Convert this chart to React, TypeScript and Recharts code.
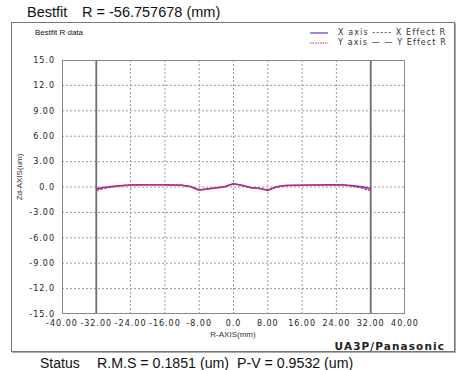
import React from 'react';
import { LineChart, Line, XAxis, YAxis, CartesianGrid, ReferenceLine } from 'recharts';

const rPositionList = [
  -32, -30, -28, -26, -24, -22, -20, -18, -16, -14, -12, -10, -8, -6, -4, -2, 0,
  2, 4, 6, 8, 10, 12, 14, 16, 18, 20, 22, 24, 26, 28, 30, 32,
];
const xAxisDeviationList = [
  -0.22, -0.04, 0.08, 0.18, 0.24, 0.27, 0.28, 0.28, 0.27, 0.25, 0.22, 0.05, -0.35, -0.22, -0.1, 0.05, 0.38,
  0.2, -0.05, -0.15, -0.38, 0.02, 0.18, 0.2, 0.22, 0.24, 0.25, 0.27, 0.28, 0.25, 0.15, 0.02, -0.18,
];
const yAxisDeviationList = [
  -0.38, -0.12, 0.04, 0.15, 0.22, 0.25, 0.26, 0.26, 0.25, 0.23, 0.2, 0.02, -0.38, -0.25, -0.12, 0.03, 0.4,
  0.18, -0.08, -0.18, -0.42, 0.0, 0.16, 0.18, 0.2, 0.22, 0.24, 0.25, 0.25, 0.2, 0.08, -0.12, -0.42,
];
const effectRadiusList = [-32, 32];

const xTickValueList = [-40, -32, -24, -16, -8, 0, 8, 16, 24, 32, 40];
const xTickLabelList = ['-40.00', '-32.00', '-24.00', '-16.00', '-8.00', '0.0', '8.00', '16.00', '24.00', '32.00', '40.00'];
const yTickValueList = [15, 12, 9, 6, 3, 0, -3, -6, -9, -12, -15];
const yTickLabelList = ['15.0', '12.0', '9.00', '6.00', '3.00', '0.0', '-3.00', '-6.00', '-9.00', '-12.0', '-15.0'];

const chartRowList = rPositionList.map((r, i) => ({
  r,
  xAxis: xAxisDeviationList[i],
  yAxis: yAxisDeviationList[i],
}));

const tickStyle = { fontFamily: 'DejaVu Sans', fontSize: 8, fill: '#222', letterSpacing: 1 };

const abs = (left: number, top: number): React.CSSProperties => ({
  position: 'absolute',
  left,
  top,
  whiteSpace: 'pre',
  lineHeight: 1,
});

export default function App(): React.JSX.Element {
  return (
    <div
      style={{
        position: 'fixed',
        left: 0,
        top: 0,
        width: 456,
        height: 370,
        background: '#fff',
        fontFamily: '"Liberation Sans", Arial, sans-serif',
        color: '#111',
        overflow: 'hidden',
      }}
    >
      <div style={{ ...abs(27, 5), fontSize: 14.5 }}>Bestfit</div>
      <div style={{ ...abs(82, 5), fontSize: 14.5 }}>R = -56.757678 (mm)</div>

      <div
        style={{
          position: 'absolute',
          left: 11,
          top: 22,
          width: 442,
          height: 328,
          border: '1px solid #777',
          boxShadow: '1px 1px 0 #aaa',
        }}
      />

      <LineChart
        width={456}
        height={370}
        data={chartRowList}
        margin={{ top: 60, right: 51, bottom: 26, left: 0 }}
        style={{ position: 'absolute', left: 0, top: 0 }}
      >
        <CartesianGrid
          stroke="#9a9a9a"
          strokeDasharray="2 2"
          horizontalValues={[12, 9, 6, 3, 0, -3, -6, -9, -12]}
          verticalValues={[-32, -24, -16, -8, 0, 8, 16, 24, 32]}
        />
        <XAxis
          type="number"
          dataKey="r"
          domain={[-40, 40]}
          ticks={xTickValueList}
          tickFormatter={(v: number) => xTickLabelList[xTickValueList.indexOf(v)]}
          tick={tickStyle}
          axisLine={false}
          tickLine={false}
          tickMargin={0}
          height={30}
          interval={0}
        />
        <YAxis
          type="number"
          domain={[-15, 15]}
          ticks={yTickValueList}
          tickFormatter={(v: number) => yTickLabelList[yTickValueList.indexOf(v)]}
          tick={tickStyle}
          axisLine={false}
          tickLine={false}
          tickMargin={1}
          width={62}
          interval={0}
        />
        {effectRadiusList.map((r) => (
          <ReferenceLine key={r} x={r} stroke="#6f6f6f" strokeWidth={1.8} ifOverflow="visible" />
        ))}
        <Line
          dataKey="xAxis"
          stroke="#5b3fd6"
          strokeWidth={1.5}
          dot={false}
          isAnimationActive={false}
        />
        <Line
          dataKey="yAxis"
          stroke="#e3204f"
          strokeWidth={1.5}
          strokeDasharray="3 1"
          dot={false}
          isAnimationActive={false}
        />
      </LineChart>

      {/* plot frame */}
      <div
        style={{
          position: 'absolute',
          left: 62,
          top: 60,
          width: 343,
          height: 254,
          border: '1px solid #888',
          boxSizing: 'border-box',
          pointerEvents: 'none',
        }}
      />

      <div style={{ ...abs(35, 29), fontSize: 8 }}>Bestfit R data</div>

      {/* legend */}
      <svg style={{ position: 'absolute', left: 308, top: 28 }} width={22} height={20}>
        <line x1={2} y1={5} x2={20} y2={5} stroke="#5b3fd6" strokeWidth={1.2} />
        <line x1={2} y1={15} x2={20} y2={15} stroke="#e3204f" strokeWidth={1.2} strokeDasharray="1.5 1" />
      </svg>
      <div style={{ ...abs(338, 29), fontSize: 8, fontFamily: 'DejaVu Sans', color: '#333', letterSpacing: 1.1 }}>
        {'X axis ----- X Effect R'}
      </div>
      <div style={{ ...abs(338, 39), fontSize: 8, fontFamily: 'DejaVu Sans', color: '#333', letterSpacing: 1.1 }}>
        {'Y axis — — Y Effect R'}
      </div>

      <div
        style={{
          ...abs(20, 177),
          fontSize: 8,
          transform: 'translate(-50%, -50%) rotate(-90deg)',
          color: '#333',
        }}
      >
        Zd-AXIS(um)
      </div>

      <div style={{ ...abs(233, 331), fontSize: 8, transform: 'translateX(-50%)', color: '#333' }}>R-AXIS(mm)</div>

      <div
        style={{
          ...abs(0, 341),
          width: 445,
          textAlign: 'right',
          fontSize: 10.5,
          fontWeight: 700,
          fontFamily: 'DejaVu Sans',
          color: '#222',
          letterSpacing: 1.1,
        }}
      >
        UA3P/Panasonic
      </div>

      <div style={{ ...abs(40, 356), fontSize: 14 }}>Status</div>
      <div style={{ ...abs(97, 356), fontSize: 14.2 }}>{'R.M.S = 0.1851 (um)  P-V = 0.9532 (um)'}</div>
    </div>
  );
}
